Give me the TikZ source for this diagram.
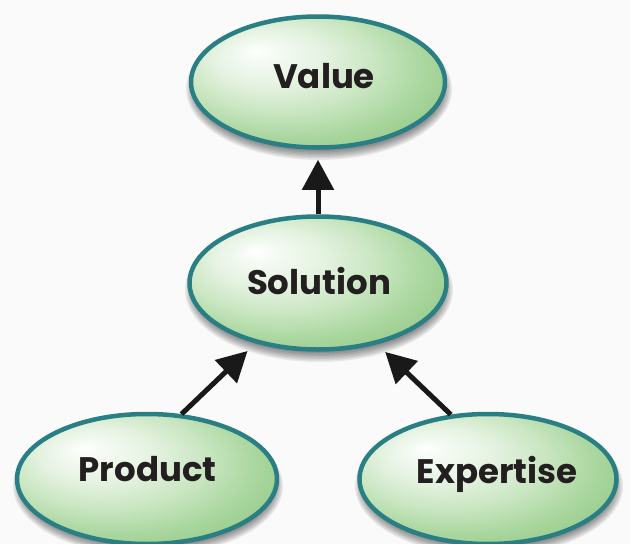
\documentclass[tikz,border=0pt]{standalone}
\usepackage{fontspec}
\setmainfont{Poppins}[BoldFont={Poppins Bold}]
\usetikzlibrary{arrows.meta,shapes.geometric}
\definecolor{rim}{HTML}{2A7F84}
\definecolor{txt}{HTML}{231F20}
\definecolor{bgc}{HTML}{FAFAFA}
\definecolor{ga}{HTML}{F6FBF5}
\definecolor{gb}{HTML}{E4F2E0}
\definecolor{gc}{HTML}{C9E6C1}
\definecolor{gd}{HTML}{A9D69E}
\definecolor{ge}{HTML}{8DC67F}
\definecolor{gf}{HTML}{84C176}
\pgfdeclareradialshading{glow}{\pgfpoint{-12.5bp}{12bp}}{color(0bp)=(white); color(3bp)=(ga); color(11bp)=(gb); color(19bp)=(gc); color(27bp)=(gd); color(37bp)=(ge); color(50bp)=(gf)}
\tikzset{
  ell/.style={ellipse, draw=rim, line width=4.5pt, shading=glow, inner sep=0pt},
  lbl/.style={anchor=base, text=txt, font=\fontsize{34}{36}\selectfont\bfseries, inner sep=0pt},
  arr/.style={draw=black!90, line width=5pt, -{Triangle[length=30pt,width=31pt]}},
}
\newcommand\mkshadow[4]{%
  \foreach \k in {0,...,11}{\fill[black,opacity=0.075] ({#1+1},{#2+7}) ellipse ({#3+4-\k*1.5} and {#4+4-\k*1.5});}}
\begin{document}
\begin{tikzpicture}[x=1pt,y=-1pt]
\fill[bgc] (0,0) rectangle (630,544);
\useasboundingbox (0,0) rectangle (630,544);
\mkshadow{318}{82}{129}{67}
\mkshadow{318}{283}{130}{68}
\mkshadow{147}{479}{131}{66}
\mkshadow{488}{479}{130}{66}
\node[ell, minimum width=254pt, minimum height=131pt] (val) at (318,82) {};
\node[ell, minimum width=257pt, minimum height=133pt] (sol) at (318,283) {};
\node[ell, minimum width=260pt, minimum height=130pt] (prod) at (147,479) {};
\node[ell, minimum width=257pt, minimum height=130pt] (exp) at (488,479) {};
\node[lbl] (valt) at (324,88.5) {Value};
\node[lbl] (solt) at (319,294.5) {Solution};
\node[lbl] (prodt) at (147.5,481.5) {Product};
\node[lbl] (expt) at (497,483.5) {Expertise};
\draw[arr, shorten >=10pt] (sol.north) -- (val.south);
\draw[arr, shorten >=11pt] (prod.62) -- (sol.224);
\draw[arr, shorten >=11pt] (exp.120) -- (sol.314);
\end{tikzpicture}
\end{document}
